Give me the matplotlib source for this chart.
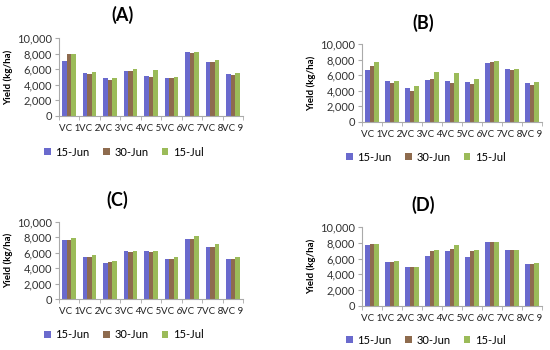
import matplotlib
matplotlib.use("Agg")
import matplotlib.pyplot as plt
import numpy as np
from matplotlib.patches import Patch

plt.rcParams['font.family'] = ['Lato', 'DejaVu Sans']

categories = ["VC 1", "VC 2", "VC 3", "VC 4", "VC 5", "VC 6", "VC 7", "VC 8", "VC 9"]
series_names = ["15-Jun", "30-Jun", "15-Jul"]
y_ticks = [0, 2000, 4000, 6000, 8000, 10000]

a_jun15 = [7030, 5520, 4830, 5780, 5130, 4910, 8150, 6980, 5340]
a_jun30 = [7900, 5430, 4660, 5820, 5040, 4910, 8020, 6980, 5220]
a_jul15 = [7930, 5690, 4910, 5990, 5860, 5040, 8190, 7160, 5470]

b_jun15 = [6710, 5280, 4420, 5410, 5280, 5110, 7620, 6800, 4940]
b_jun30 = [7230, 5060, 4030, 5500, 4980, 4810, 7710, 6710, 4720]
b_jul15 = [7660, 5320, 4590, 6450, 6280, 5540, 7840, 6840, 5110]

c_jun15 = [7660, 5410, 4720, 6230, 6230, 5200, 7790, 6710, 5150]
c_jun30 = [7660, 5450, 4850, 6060, 6060, 5240, 7790, 6800, 5150]
c_jul15 = [7970, 5670, 4940, 6230, 6280, 5450, 8180, 7190, 5410]

d_jun15 = [7750, 5630, 4890, 6360, 6970, 6190, 8050, 7100, 5370]
d_jun30 = [7880, 5540, 4890, 6970, 7230, 6970, 8050, 7100, 5370]
d_jul15 = [7880, 5670, 4980, 7060, 7660, 7100, 8050, 7100, 5410]

colors = ["#6A6ACD", "#8E6B4E", "#9BBB59"]

fig = plt.figure(figsize=(5.5, 3.5), dpi=100)

panels = [
    ("(A)", [a_jun15, a_jun30, a_jul15], [59/550, 1-116/350, 184/550, 78/350], (122/550, 1-15/350), (124/550, 1-152/350)),
    ("(B)", [b_jun15, b_jun30, b_jul15], [362/550, 1-122/350, 180/550, 78/350], (423/550, 1-23/350), (426/550, 1-157/350)),
    ("(C)", [c_jun15, c_jun30, c_jul15], [59/550, 1-299/350, 184/550, 77/350], (117/550, 1-200/350), (124/550, 1-335/350)),
    ("(D)", [d_jun15, d_jun30, d_jul15], [362/550, 1-306/350, 180/550, 79/350], (423/550, 1-205/350), (426/550, 1-340/350)),
]

x = np.arange(len(categories))
bw = 0.22
for title, series, rect, tpos, lpos in panels:
    ax = fig.add_axes(rect)
    for i, (vals, c) in enumerate(zip(series, colors)):
        ax.bar(x + (i - 1) * bw, vals, width=bw, color=c, linewidth=0)
    ax.set_xlim(-0.5, len(categories) - 0.5)
    ax.set_ylim(0, 10000)
    ax.set_yticks(y_ticks)
    ax.set_yticklabels([f"{v:,}" for v in y_ticks], fontsize=8, color="#333333")
    ax.set_xticks(x)
    ax.set_xticklabels(categories, fontsize=7, color="#222222")
    ax.set_xticks(np.arange(len(categories) + 1) - 0.5, minor=True)
    ax.tick_params(axis='x', which='major', length=0, pad=6)
    ax.tick_params(axis='x', which='minor', length=3, color="#AAAAAA")
    ax.tick_params(axis='y', length=3, color="#AAAAAA", pad=2)
    for s in ["top", "right"]:
        ax.spines[s].set_visible(False)
    for s in ["left", "bottom"]:
        ax.spines[s].set_color("#AAAAAA")
        ax.spines[s].set_linewidth(0.8)
    ax.set_ylabel("Yield (kg/ha)", fontsize=7, fontweight="bold", labelpad=3)
    fig.text(tpos[0], tpos[1], title, ha="center", va="center", fontsize=13, fontweight="bold")
    handles = [Patch(facecolor=c, edgecolor="none") for c in colors]
    fig.legend(handles, series_names, loc="center", bbox_to_anchor=lpos, ncol=3, frameon=False,
               fontsize=8, handlelength=0.6, handleheight=0.6, handletextpad=0.4, columnspacing=1.2,
               borderaxespad=0)

fig.savefig("out.png", dpi=100)
